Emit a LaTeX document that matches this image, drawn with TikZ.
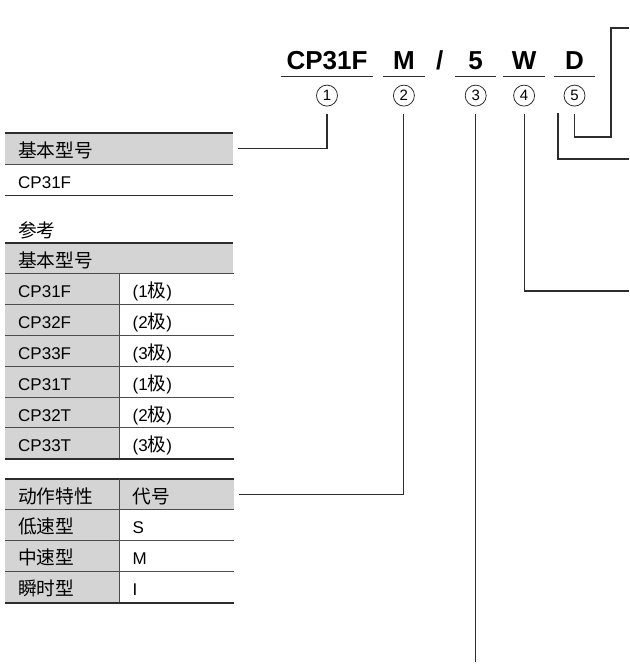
\documentclass[tikz,border=0pt]{standalone}
\usepackage{fontspec}
\setmainfont{Liberation Sans}
\newfontfamily\cjk[Scale=1.1]{Noto Sans CJK SC}
\usetikzlibrary{positioning}
\definecolor{cellgray}{RGB}{212,212,212}
\definecolor{ink}{RGB}{45,45,45}

\begin{document}
\begin{tikzpicture}[x=1pt,y=-1pt,font=\fontsize{17}{20}\selectfont]
  \tikzstyle{code}=[font=\bfseries\fontsize{26}{28}\selectfont, inner sep=0pt, text height=19pt, text depth=6pt, minimum width=41pt]
  \tikzstyle{num}=[circle, draw=ink, line width=0.8pt, minimum size=21pt, inner sep=0pt, font=\fontsize{15}{15}\selectfont]
  \tikzstyle{cell}=[minimum height=30.8pt, inner xsep=13pt, inner ysep=0pt, text width=88pt, align=left, text height=17pt, text depth=0pt]
  \tikzstyle{wide}=[cell, text width=202pt]
  \tikzstyle{heavy}=[line width=1.8pt, draw=ink]
  \tikzstyle{rule}=[line width=0.9pt, draw=ink!85]
  \tikzstyle{link}=[line width=1.1pt, draw=ink]
  \useasboundingbox (0,0) rectangle (629,666);

  \node[code, minimum width=92pt, anchor=base] (code1) at (327,70) {CP31F};
  \node[code, right=10pt of code1] (code2) {M};
  \node[code, minimum width=30pt, right=0pt of code2] (slash) {/};
  \node[code, right=0pt of slash] (code3) {5};
  \node[code, right=7pt of code3] (code4) {W};
  \node[code, right=9pt of code4] (code5) {D};
  \foreach \k in {1,...,5} {
    \draw[link] (code\k.south west) -- (code\k.south east);
    \node[num, below=8.5pt of code\k] (c\k) {\k};
  }

  % basic model
  \node[wide, fill=cellgray, anchor=north west] (basehead) at (5,133) {\cjk 基本型号};
  \node[wide, below=0pt of basehead] (baserow) {CP31F};
  \draw[heavy] (basehead.north west) -- (basehead.north east);
  \draw[rule] (basehead.south west) -- (basehead.south east);
  \draw[heavy] (baserow.south west) -- (baserow.south east);

  % reference list
  \node[anchor=base west, inner sep=0pt] (refnote) at (18,237) {\cjk 参考};
  \node[wide, fill=cellgray, anchor=north west] (refhead) at (5,243) {\cjk 基本型号};
  \foreach \model/\pole [count=\i] in {CP31F/1,CP32F/2,CP33F/3,CP31T/1,CP32T/2,CP33T/3} {
    \node[cell, fill=cellgray, anchor=north west] (ref\i) at (5,243+30.8*\i) {\model};
    \node[cell, right=0pt of ref\i] (pole\i) {(\pole{\cjk 极})};
    \draw[rule] (ref\i.north west) -- (pole\i.north east);
  }
  \draw[heavy] (refhead.north west) -- (refhead.north east);
  \draw[rule] (ref1.north east) -- (ref6.south east);
  \draw[heavy] (ref6.south west) -- (pole6.south east);

  % operating characteristic
  \node[cell, fill=cellgray, anchor=north west] (acthead) at (5,479) {\cjk 动作特性};
  \node[cell, fill=cellgray, right=0pt of acthead] (codehead) {\cjk 代号};
  \foreach \speed/\letter [count=\i] in {低速型/S,中速型/M,瞬时型/I} {
    \node[cell, fill=cellgray, anchor=north west] (speed\i) at (5,479+30.8*\i) {\cjk\speed};
    \node[cell, right=0pt of speed\i] (letter\i) {\letter};
    \draw[rule] (speed\i.north west) -- (letter\i.north east);
  }
  \draw[heavy] (acthead.north west) -- (codehead.north east);
  \draw[rule] (acthead.north east) -- (speed3.south east);
  \draw[heavy] (speed3.south west) -- (letter3.south east);

  \coordinate (bend5) at (611,137);
  \coordinate (out5) at (629,28);
  \coordinate (dtap) at (558,113);
  \coordinate (outD) at (629,159);
  \coordinate (out4) at (629,291);
  \coordinate (out3) at (472,662);

  \draw[link] ([yshift=-7.5pt]c1.south) |- ([xshift=5pt]basehead.east);
  \draw[link] ([yshift=-7.5pt]c2.south) |- ([xshift=5pt]codehead.east);
  \draw[link] ([yshift=-7.5pt]c3.south) -- (c3.south |- out3);
  \draw[link] ([yshift=-7.5pt]c4.south) |- (out4);
  \draw[link] ([yshift=-7.5pt]c5.south) |- (bend5) |- (out5);
  \draw[link] (dtap) |- (outD);
\end{tikzpicture}
\end{document}
